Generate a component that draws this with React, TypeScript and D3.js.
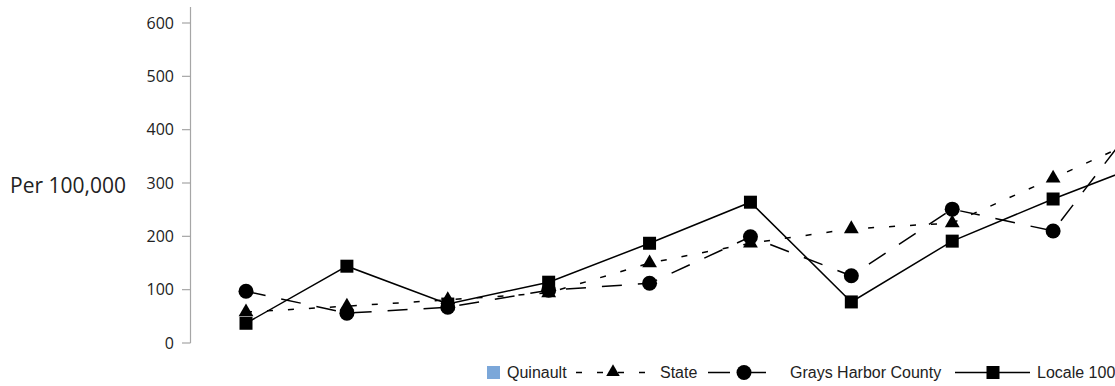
import React from "react";
import * as d3 from "d3";

const categories = ["P1", "P2", "P3", "P4", "P5", "P6", "P7", "P8", "P9", "P10"];
const quinault: (number | null)[] = [null, null, null, null, null, null, null, null, null, null];
const stateValues = [58, 69, 81, 94, 150, 187, 214, 225, 309, 395];
const countyValues = [97, 56, 67, 99, 112, 199, 126, 251, 210, 457];
const localeValues = [37, 144, 73, 114, 187, 264, 77, 191, 270, 343];
const yTicks = [0, 100, 200, 300, 400, 500, 600];
const seriesNames = ["Quinault", "State", "Grays Harbor County", "Locale 100"];

const W = 1115;
const H = 386;

export default function App() {
  const x = d3.scalePoint<string>().domain(categories).range([246, 1154]);
  const y = d3.scaleLinear().domain([0, 630]).range([343, 7]);

  const line = d3
    .line<number>()
    .x((_, i) => x(categories[i]) as number)
    .y((d) => y(d));

  const tri = d3.symbol().type(d3.symbolTriangle).size(95)() as string;
  const legendTri = d3.symbol().type(d3.symbolTriangle).size(80)() as string;

  const axisX = 190.5;

  return (
    <svg width={W} height={H} style={{ position: "absolute", left: 0, top: 0, display: "block", background: "#fff" }}>
      {/* y axis */}
      <line x1={axisX} x2={axisX} y1={y(630)} y2={y(0)} stroke="#a6a6a6" strokeWidth={1.2} />
      {yTicks.map((t) => (
        <g key={t}>
          <line x1={182} x2={axisX} y1={y(t)} y2={y(t)} stroke="#a6a6a6" strokeWidth={1.2} />
          <text x={174} y={y(t)} dy="0.36em" textAnchor="end" fontFamily="'Open Sans', sans-serif" fontSize={16} fill="#222">
            {t}
          </text>
        </g>
      ))}
      <text x={126} y={193} textAnchor="end" fontFamily="'Open Sans', sans-serif" fontSize={21} fill="#222">
        Per 100,000
      </text>

      {/* lines */}
      <path d={line(stateValues) as string} fill="none" stroke="#000" strokeWidth={1.5} strokeDasharray="6,15" />
      <path d={line(countyValues) as string} fill="none" stroke="#000" strokeWidth={1.5} strokeDasharray="20,16" />
      <path d={line(localeValues) as string} fill="none" stroke="#000" strokeWidth={1.5} />

      {/* markers */}
      {stateValues.map((v, i) => (
        <path key={"s" + i} d={tri} transform={`translate(${x(categories[i])},${y(v)})`} fill="#000" />
      ))}
      {countyValues.map((v, i) => (
        <circle key={"c" + i} cx={x(categories[i])} cy={y(v)} r={7.5} fill="#000" />
      ))}
      {localeValues.map((v, i) => (
        <rect key={"l" + i} x={(x(categories[i]) as number) - 6.5} y={y(v) - 6.5} width={13} height={13} fill="#000" />
      ))}
      {quinault.map((v, i) =>
        v == null ? null : (
          <rect key={"q" + i} x={(x(categories[i]) as number) - 10} y={y(v)} width={20} height={y(0) - y(v)} fill="#7ba7d9" />
        )
      )}

      {/* legend */}
      <g fontFamily="'Liberation Sans', Arial, sans-serif" fontSize={16} fill="#222">
        <rect x={487} y={366} width={13} height={13} fill="#7ba7d9" />
        <text x={507} y={378}>{seriesNames[0]}</text>

        <line x1={576} x2={652} y1={372.5} y2={372.5} stroke="#000" strokeWidth={1.5} strokeDasharray="6,15" />
        <path d={legendTri} transform="translate(613,372)" fill="#000" />
        <text x={660} y={378}>{seriesNames[1]}</text>

        <line x1={708} x2={770} y1={372.5} y2={372.5} stroke="#000" strokeWidth={1.5} strokeDasharray="22,14" />
        <circle cx={744} cy={372.5} r={7.5} fill="#000" />
        <text x={790} y={378}>{seriesNames[2]}</text>

        <line x1={955} x2={1030} y1={372.5} y2={372.5} stroke="#000" strokeWidth={1.5} />
        <rect x={986.5} y={366} width={13} height={13} fill="#000" />
        <text x={1037} y={378}>{seriesNames[3]}</text>
      </g>
    </svg>
  );
}
